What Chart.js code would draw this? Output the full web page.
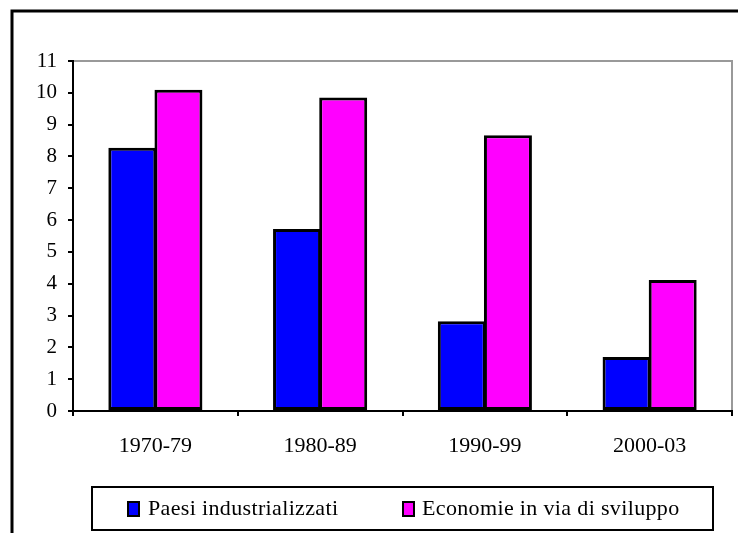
<!DOCTYPE html>
<html>
<head>
<meta charset="utf-8">
<script src="https://cdn.jsdelivr.net/npm/chart.js@4"></script>
<style>
    html, body { margin: 0; padding: 0; background: #fff; }
    #wrap { width: 738px; height: 533px; position: relative; }
</style>
</head>
<body>
<div id="wrap"><canvas id="chart" width="738" height="533"></canvas></div>
<script>
// Periods and values
const periods = ['1970-79', '1980-89', '1990-99', '2000-03'];
const industrialised = [8.27, 5.72, 2.82, 1.7];
const developing = [10.1, 9.85, 8.67, 4.12];
const seriesNames = ['Paesi industrializzati', 'Economie in via di sviluppo'];
const seriesColors = ['#0000FF', '#FF00FF'];

const FONT = 'Liberation Serif, Times New Roman, serif';

/**
 * Frame, plot border and boxed legend
 */
const framePlugin = {
    id: 'frame',
    beforeDraw(chart) {
        const ctx = chart.ctx;
        ctx.save();
        ctx.fillStyle = '#fff';
        ctx.fillRect(0, 0, chart.width, chart.height);
        // outer border (only left and top visible)
        ctx.strokeStyle = '#000';
        ctx.lineWidth = 3;
        ctx.beginPath();
        ctx.moveTo(12, chart.height + 5);
        ctx.lineTo(12, 11);
        ctx.lineTo(chart.width + 5, 11);
        ctx.stroke();
        // grey plot border on top and right
        const a = chart.chartArea;
        ctx.strokeStyle = '#999';
        ctx.lineWidth = 2;
        ctx.beginPath();
        ctx.moveTo(a.left, a.top);
        ctx.lineTo(a.right, a.top);
        ctx.lineTo(a.right, a.bottom);
        ctx.stroke();
        ctx.restore();
    },
    afterDraw(chart) {
        const ctx = chart.ctx;
        ctx.save();
        ctx.strokeStyle = '#000';
        ctx.lineWidth = 2;
        ctx.strokeRect(92, 487, 621, 43);

        const items = [{ box: 128, text: 148 }, { box: 403, text: 422 }];
        ctx.font = '22px ' + FONT;
        ctx.letterSpacing = '0.35px';
        ctx.textBaseline = 'middle';
        chart.data.datasets.forEach((ds, i) => {
            const it = items[i];
            ctx.fillStyle = ds.backgroundColor;
            ctx.fillRect(it.box, 502, 11, 14);
            ctx.strokeRect(it.box, 502, 11, 14);
            ctx.fillStyle = '#000';
            ctx.fillText(ds.label, it.text, 509);
        });
        ctx.restore();
    }
};

new Chart(document.getElementById('chart'), {
    type: 'bar',
    data: {
        labels: periods,
        datasets: [
            { label: seriesNames[0], data: industrialised, backgroundColor: seriesColors[0] },
            { label: seriesNames[1], data: developing, backgroundColor: seriesColors[1] }
        ]
    },
    options: {
        responsive: false,
        animation: false,
        devicePixelRatio: 1,
        layout: { padding: { left: 0, top: 61, right: 6, bottom: 0 } },
        datasets: {
            bar: {
                borderColor: '#000',
                borderWidth: 3,
                borderSkipped: false,
                categoryPercentage: 0.56,
                barPercentage: 1.04   // slight overlap so the shared edge reads as one line
            }
        },
        plugins: {
            legend: { display: false },
            tooltip: { enabled: false }
        },
        scales: {
            x: {
                afterFit(scale) { scale.height = 122; },
                grid: { drawOnChartArea: false, drawTicks: true, tickLength: 5, color: '#000', lineWidth: 2 },
                border: { color: '#000', width: 2 },
                ticks: { color: '#000', padding: 17, font: { family: FONT, size: 22 } }
            },
            y: {
                min: 0,
                max: 11,
                afterFit(scale) { scale.width = 73; },
                grid: { drawOnChartArea: false, drawTicks: true, tickLength: 5, color: '#000', lineWidth: 2 },
                border: { color: '#000', width: 2 },
                ticks: { stepSize: 1, color: '#000', padding: 11, font: { family: FONT, size: 21 } }
            }
        }
    },
    plugins: [framePlugin]
});
</script>
</body>
</html>
